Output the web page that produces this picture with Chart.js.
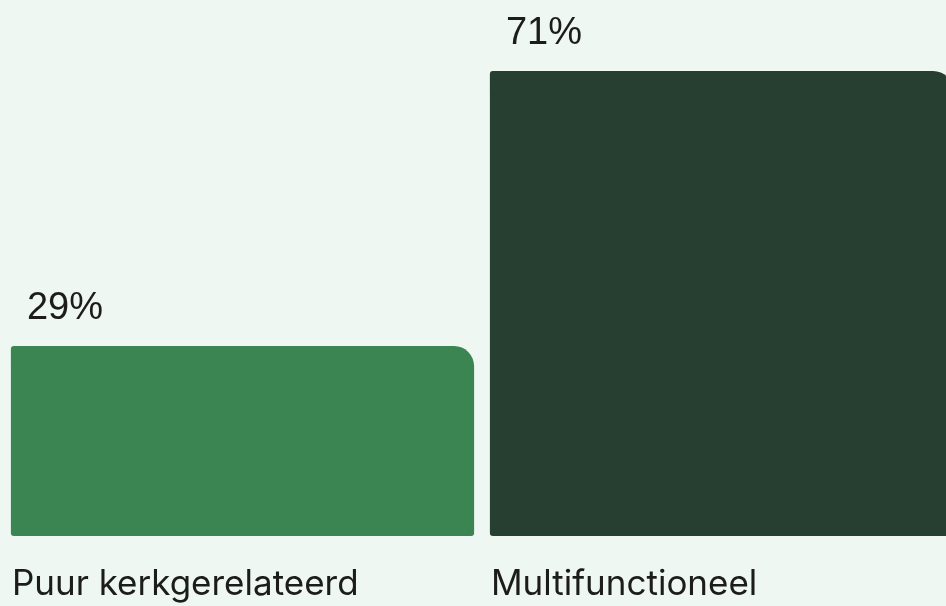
<!DOCTYPE html>
<html>
<head>
<meta charset="utf-8">
<script src="https://cdn.jsdelivr.net/npm/chart.js@4"></script>
<style>
    html, body { margin: 0; padding: 0; background: #eef7f1; overflow: hidden; }
    #wrap { width: 964px; height: 606px; position: relative; }
</style>
</head>
<body>
<div id="wrap"><canvas id="chart"></canvas></div>
<script>
// data
const categories = ['Puur kerkgerelateerd', 'Multifunctioneel'];
const values = [29, 71];
const valueLabels = ['29%', '71%'];
const barColors = ['#3b8552', '#263f31'];

// labels above bars and below bars, placed from the bar elements
const labelPlugin = {
    id: 'barLabels',
    afterDatasetsDraw(chart) {
        const ctx = chart.ctx;
        const meta = chart.getDatasetMeta(0);
        ctx.save();
        ctx.fillStyle = '#1c1c1c';
        ctx.textAlign = 'left';
        ctx.textBaseline = 'alphabetic';
        meta.data.forEach((bar, i) => {
            const left = bar.x - bar.width / 2;
            ctx.font = '38px "Liberation Sans", Arial, sans-serif';
            ctx.fillText(valueLabels[i], left + 16, bar.y - 27);
            ctx.font = '35px Inter, "Noto Sans", sans-serif';
            ctx.fillText(categories[i], left + 1, bar.base + 59);
        });
        ctx.restore();
    }
};

new Chart(document.getElementById('chart'), {
    type: 'bar',
    data: {
        labels: categories,
        datasets: [{
            data: values,
            backgroundColor: barColors,
            borderRadius: { topLeft: 3, topRight: 20, bottomLeft: 3, bottomRight: 3 },
            borderSkipped: false,
            categoryPercentage: 1,
            barPercentage: 0.967
        }]
    },
    options: {
        responsive: true,
        maintainAspectRatio: false,
        animation: false,
        layout: { padding: { left: 3, right: 3, top: 12, bottom: 70 } },
        plugins: { legend: { display: false }, tooltip: { enabled: false } },
        scales: {
            x: { display: false },
            y: { display: false, min: 0, max: 80 }
        }
    },
    plugins: [labelPlugin]
});
</script>
</body>
</html>
